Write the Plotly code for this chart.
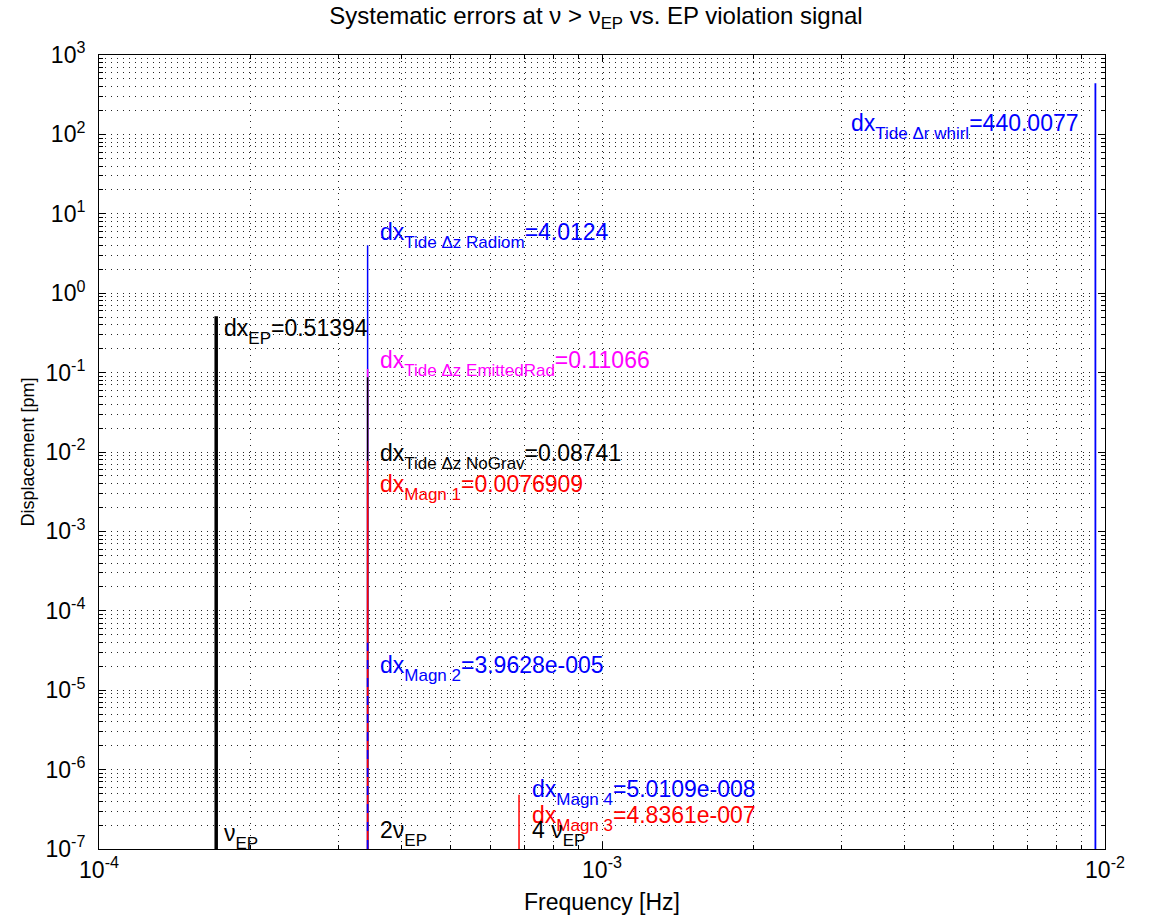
import numpy as np
import plotly.graph_objects as go

# ---- data -------------------------------------------------------------
nu_EP = 1.71e-4          # EP violation signal frequency [Hz]
nu_whirl = 9.57e-3       # whirl frequency [Hz]
dx_EP = 0.51394          # EP signal displacement [pm]
y_floor = 1e-7           # lower end of the stems

# systematic error sources, drawn in this order (later stems overlay earlier ones)
err_names = ["Tide Δz Radiom", "Tide Δz EmittedRad", "Tide Δz NoGrav",
             "Magn 1", "Magn 2", "Magn 4", "Magn 3", "Tide Δr whirl"]
err_freqs = [2 * nu_EP, 2 * nu_EP, 2 * nu_EP, 2 * nu_EP, 2 * nu_EP,
             4 * nu_EP, 4 * nu_EP, nu_whirl]
err_values = [4.0124, 0.11066, 0.08741, 0.0076909, 3.9628e-5,
              5.0109e-8, 4.8361e-7, 440.0077]

# frequency markers along the bottom: (prefix, symbol, subscript)
freq_marks = [("", "ν", "EP"), ("2", "ν", "EP"), ("4 ", "ν", "EP"), ("", "ν", "whirl")]

x_tick_exp = [-4, -3, -2]
y_tick_exp = [-7, -6, -5, -4, -3, -2, -1, 0, 1, 2, 3]

# ---- styles -----------------------------------------------------------
BLUE, MAGENTA, RED, BLACK = "#0000ff", "#ff00ff", "#ff0000", "#000000"
err_colors = [BLUE, MAGENTA, BLACK, RED, BLUE, BLUE, RED, BLUE]
err_dash = ["solid", "solid", "solid", "solid", "dash", "solid", "solid", "solid"]
err_width = [1.5, 1.5, 1.5, 1.5, 1.5, 1.5, 1.5, 1.8]

FONT = "Liberation Sans, Arial, Helvetica, sans-serif"
LABEL_SIZE = 23
SUB_SIZE = 17

# label anchor points (left / middle of the text) in data units
err_label_xy = [(3.59e-4, 5.3), (3.59e-4, 0.13), (3.59e-4, 8.9e-3),
                (3.59e-4, 3.6e-3), (3.59e-4, 1.9e-5), (7.19e-4, 5.1e-7),
                (7.19e-4, 2.4e-7), (3.10e-3, 124.0)]
ep_label_xy = (1.758e-4, 0.33)
mark_label_xy = [(1.758e-4, 1.44e-7), (3.59e-4, 1.55e-7), (7.19e-4, 1.55e-7),
                 (1.009e-2, 1.44e-7)]


def num2str(v):
    """Number formatting in the style of MATLAB's num2str."""
    digits = max(int(np.floor(np.log10(abs(v)))), 0) + 5
    s = f"{v:.{digits}g}"
    if "e" in s:
        mant, exp = s.split("e")
        sign = exp[0]
        s = f"{mant}e{sign}{int(exp[1:]):03d}"
    return s


def sub(text):
    """Lowered, smaller subscript text."""
    return (f'<span style="font-size:{SUB_SIZE}px;baseline-shift:-8px">'
            f'{text}</span>')


fig = go.Figure()

# EP signal stem
fig.add_trace(go.Scatter(x=[nu_EP, nu_EP], y=[y_floor, dx_EP], mode="lines",
                         line=dict(color=BLACK, width=3.5), showlegend=False,
                         hoverinfo="skip"))

# systematic error stems
for f, v, c, d, w in zip(err_freqs, err_values, err_colors, err_dash, err_width):
    fig.add_trace(go.Scatter(x=[f, f], y=[y_floor, v], mode="lines",
                             line=dict(color=c, width=w, dash=d),
                             showlegend=False, hoverinfo="skip"))

annotations = []


def add_label(xy, text, color):
    annotations.append(dict(
        x=np.log10(xy[0]), y=np.log10(xy[1]), xref="x", yref="y",
        text=text, showarrow=False, xanchor="left", yanchor="middle",
        font=dict(family=FONT, size=LABEL_SIZE, color=color)))


add_label(ep_label_xy, f"dx{sub('EP')}={num2str(dx_EP)}", BLACK)
for xy, name, v, c in zip(err_label_xy, err_names, err_values, err_colors):
    add_label(xy, f"dx{sub(name)}={num2str(v)}", c)
for xy, (pre, sym, s) in zip(mark_label_xy, freq_marks):
    add_label(xy, f"{pre}{sym}{sub(s)}", BLACK)

grid_dash = "1px,5px"
GRID_COLOR = "rgba(0,0,0,0.85)"


def minor_vals(exps):
    return [m * 10.0 ** e for e in exps[:-1] for m in range(2, 10)]


axis_common = dict(
    type="log", showline=True, linecolor="black", linewidth=1, mirror="ticks",
    ticks="inside", ticklen=7, tickcolor="black", tickwidth=1,
    showgrid=True, gridcolor=GRID_COLOR, gridwidth=1, griddash=grid_dash,
    zeroline=False,
    tickfont=dict(family=FONT, size=23, color="black"),
)

fig.update_layout(
    width=1156, height=922,
    paper_bgcolor="white", plot_bgcolor="white",
    margin=dict(l=99, r=51, t=55, b=73),
    title=dict(text="Systematic errors at ν > ν<sub>EP</sub> vs. EP violation signal",
               x=0.494, xref="paper", xanchor="center", y=0.983, yref="container",
               yanchor="middle", font=dict(family=FONT, size=24, color="black")),
    xaxis=dict(
        **axis_common, range=[-4, -2],
        tickvals=[10.0 ** e for e in x_tick_exp],
        ticktext=[f"10<sup>{e}</sup>" for e in x_tick_exp],
        minor=dict(tickvals=minor_vals(x_tick_exp), ticks="inside", ticklen=4,
                   tickcolor="black", showgrid=True, gridcolor=GRID_COLOR,
                   gridwidth=1, griddash=grid_dash),
        title=dict(text="Frequency [Hz]", standoff=12,
                   font=dict(family=FONT, size=23, color="black")),
    ),
    yaxis=dict(
        **axis_common, range=[-7, 3], ticklabelstandoff=8,
        tickvals=[10.0 ** e for e in y_tick_exp],
        ticktext=[f"10<sup>{e}</sup>" for e in y_tick_exp],
        minor=dict(tickvals=minor_vals(y_tick_exp), ticks="inside", ticklen=4,
                   tickcolor="black", showgrid=True, gridcolor=GRID_COLOR,
                   gridwidth=1, griddash=grid_dash),
        title=dict(text="Displacement [pm]", standoff=6,
                   font=dict(family=FONT, size=18, color="black")),
    ),
    annotations=annotations,
)

fig.write_html("out.html")
